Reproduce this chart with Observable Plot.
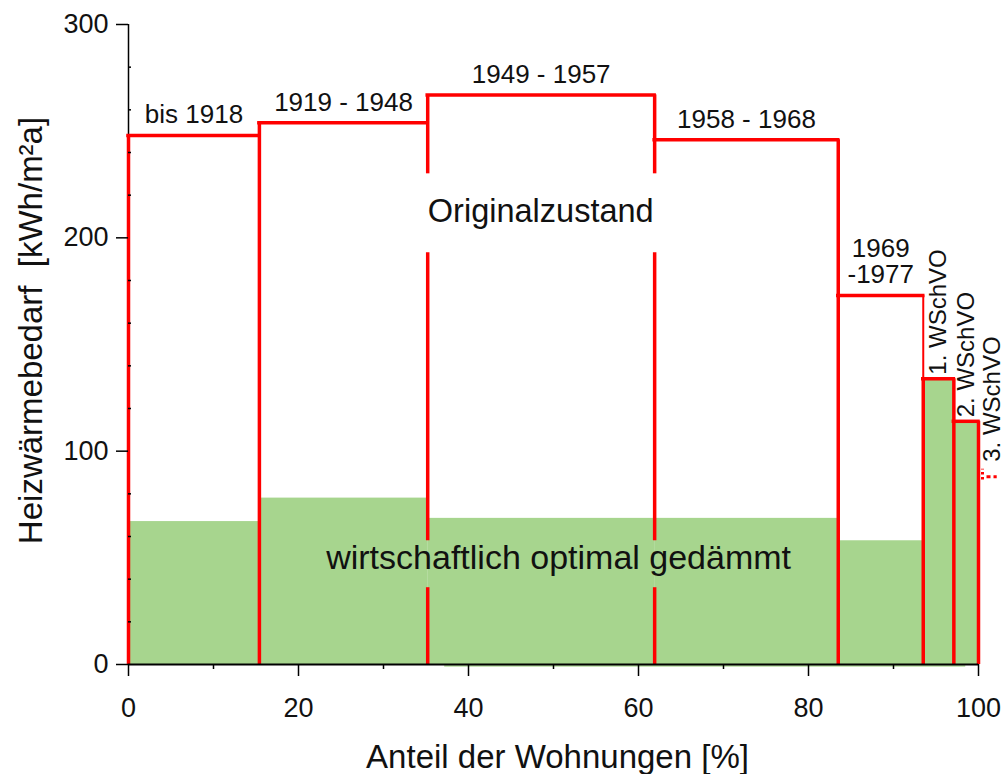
<!DOCTYPE html>
<html><head><meta charset="utf-8">
<script src="https://cdn.jsdelivr.net/npm/d3@7"></script>
<script src="https://cdn.jsdelivr.net/npm/@observablehq/plot@0.6"></script>
<style>html,body{margin:0;padding:0;background:#fff}</style>
</head><body><div id="chart"></div>
<script>
// ---- data ----
const periods = ["bis 1918", "1919 - 1948", "1949 - 1957", "1958 - 1968", "1969\n-1977", "1. WSchVO", "2. WSchVO"];
const shareStart = [0, 15.4, 35.2, 61.9, 83.5, 93.5, 97.1];
const shareEnd = [15.4, 35.2, 61.9, 83.5, 93.5, 97.1, 100];
const originalDemand = [248, 254, 267, 246, 173, 134, 114];
const optimalDemand = [67, 78, 68.5, 68.5, 58, 134, 114];
const wschvo3Label = "3. WSchVO";
const wschvo3Share = 100;
const wschvo3Demand = 88;
const edge1977Low = 85;
const labelGaps = [[36, 58], [193, 230]];
const originalLabel = {text: "Originalzustand", x: 48.5, y: 212.5};
const optimalLabel = {text: "wirtschaftlich optimal gedämmt", x: 50.6, y: 50};
const underline = {x1: 37.2, x2: 98.5};
const xMajorTicks = [0, 20, 40, 60, 80, 100];
const xMinorTicks = [10, 30, 50, 70, 90];
const yMajorTicks = [0, 100, 200, 300];
const yMinorTicks = [20, 40, 60, 80, 120, 140, 160, 180, 220, 240, 260, 280];
const xLabel = "Anteil der Wohnungen [%]";
const yLabel = "Heizwärmebedarf  [kWh/m²a]";

// ---- derived tables ----
const RED = "#ff0000", GREEN = "#a7d58e", INK = "#111";
const bars = periods.map((p, i) => ({period: p, x0: shareStart[i], x1: shareEnd[i], orig: originalDemand[i], opt: optimalDemand[i]}));
const historic = bars.slice(0, 5);
const wschvo = bars.slice(5);

function splitByGaps(x, lo, hi, w) {
  const segs = [];
  let start = lo;
  for (const [g0, g1] of labelGaps.slice().sort((a, b) => a[0] - b[0])) {
    if (g0 > start && g0 < hi) segs.push({x, y1: start, y2: g0, w});
    start = Math.max(start, g1);
  }
  if (start < hi) segs.push({x, y1: start, y2: hi, w});
  return segs;
}
const verticals = [];
historic.forEach((d, i) => {
  const top = i === 0 ? d.orig : Math.max(d.orig, historic[i - 1].orig);
  if (i === 2 || i === 3) verticals.push(...splitByGaps(d.x0, 0, top, 3.5));
  else verticals.push({x: d.x0, y1: 0, y2: top, w: 3.5});
});
verticals.push({x: historic[4].x1, y1: edge1977Low, y2: historic[4].orig, w: 2});
wschvo.forEach((d, i) => {
  const top = i === 0 ? d.orig : Math.max(d.orig, wschvo[i - 1].orig);
  verticals.push({x: d.x0, y1: 0, y2: top, w: 3.5});
});
verticals.push({x: wschvo[wschvo.length - 1].x1, y1: 0, y2: wschvo[wschvo.length - 1].orig, w: 3.5});

const W = 1005, H = 774, ML = 128, MR = 27, MT = 24, MB = 110;
const FONT = "'Liberation Sans', Arial, Helvetica, sans-serif";

const chart = Plot.plot({
  width: W, height: H,
  marginLeft: ML, marginRight: MR, marginTop: MT, marginBottom: MB,
  x: {domain: [0, 100]},
  y: {domain: [0, 300]},
  style: {fontFamily: FONT, background: "#fff", color: INK, overflow: "visible"},
  marks: [
    Plot.rect(bars, {x1: "x0", x2: "x1", y1: 0, y2: "opt", fill: GREEN}),
    Plot.rect([underline], {x1: "x1", x2: "x2", y1: -1.3, y2: -0.3, fill: "#b9dea4"}),
    Plot.ruleX([0], {stroke: "#000", strokeWidth: 1.5}),
    Plot.ruleX(verticals, {x: "x", y1: "y1", y2: "y2", stroke: RED, strokeWidth: "w"}),
    Plot.ruleY(bars, {y: "orig", x1: "x0", x2: "x1", stroke: RED, strokeWidth: 3.5, strokeLinecap: "square"}),
    // 3. WSchVO marker
    Plot.ruleX([wschvo3Share], {y1: wschvo3Demand - 1.5, y2: wschvo3Demand + 3.5, dx: 4, stroke: RED, strokeWidth: 3, strokeDasharray: "2.5,2.5"}),
    Plot.ruleY([wschvo3Demand], {x1: wschvo3Share + 1.0, x2: wschvo3Share + 2.2, stroke: RED, strokeWidth: 3, strokeDasharray: "4,3"}),
    Plot.ruleY([0], {stroke: "#000", strokeWidth: 2}),
    // axes
    Plot.axisX({ticks: xMajorTicks, tickSize: 12, tickPadding: 21, fontSize: 27, label: null, stroke: "#000", strokeWidth: 1.5}),
    Plot.axisX({ticks: xMinorTicks, tickSize: 5, tickFormat: () => "", label: null, stroke: "#000", strokeWidth: 1.5}),
    Plot.axisY({ticks: yMajorTicks, tickSize: 12, tickPadding: 8, fontSize: 27, label: null, stroke: "#000", strokeWidth: 1.5}),
    Plot.tickY(yMinorTicks, {y: d => d, insetRight: W - ML - MR - 3, stroke: "#000", strokeWidth: 1.5}),
    // period labels
    Plot.text(historic, {x: d => (d.x0 + d.x1) / 2, y: "orig", text: "period", lineAnchor: "bottom", dy: -12, fontSize: 26, fill: INK}),
    Plot.text(wschvo, {x: d => (d.x0 + d.x1) / 2, y: "orig", text: "period", rotate: -90, textAnchor: "start", lineAnchor: "middle", dy: -4, fontSize: 24, fill: INK}),
    Plot.text([wschvo3Label], {x: wschvo3Share, y: wschvo3Demand, text: d => d, rotate: -90, textAnchor: "start", lineAnchor: "middle", dx: 14, dy: -15, fontSize: 24, fill: INK}),
    Plot.text([originalLabel], {x: "x", y: "y", text: "text", fontSize: 32.5, fill: INK}),
    Plot.text([optimalLabel], {x: "x", y: "y", text: "text", fontSize: 34, fill: INK}),
    // axis labels
    Plot.text([xLabel], {frameAnchor: "bottom", text: d => d, lineAnchor: "bottom", dy: 103, dx: 4, fontSize: 33, fill: INK}),
    Plot.text([yLabel], {frameAnchor: "left", text: d => d, rotate: -90, textAnchor: "middle", lineAnchor: "middle", dx: -97, dy: -14, fontSize: 33, fill: INK})
  ]
});
document.getElementById("chart").appendChild(chart);
</script>
</body></html>
